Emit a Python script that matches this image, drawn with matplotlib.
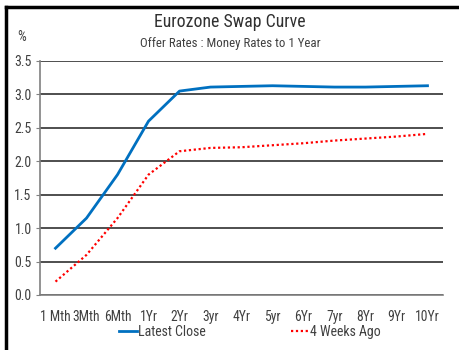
import numpy as np
import matplotlib.pyplot as plt
from matplotlib import font_manager

tenors = ['1 Mth', '3Mth', '6Mth', '1Yr', '2Yr', '3yr', '4Yr', '5yr', '6Yr', '7yr', '8Yr', '9Yr', '10Yr']
latest_close = [0.70, 1.15, 1.80, 2.60, 3.05, 3.11, 3.12, 3.13, 3.12, 3.11, 3.11, 3.12, 3.13]
four_weeks_ago = [0.20, 0.60, 1.15, 1.80, 2.15, 2.20, 2.21, 2.24, 2.27, 2.31, 2.34, 2.37, 2.41]
y_ticks = [0.0, 0.5, 1.0, 1.5, 2.0, 2.5, 3.0, 3.5]

names = {f.name for f in font_manager.fontManager.ttflist}
narrow = [n for n in ['Liberation Sans Narrow', 'Roboto Condensed', 'Open Sans Condensed'] if n in names]
font = narrow[0] if narrow else 'Liberation Sans'
plt.rcParams['font.family'] = [font, 'DejaVu Sans']
small = 9.5 if narrow else 8.3
text_col = '#404040'

fig = plt.figure(figsize=(4.6, 3.5), dpi=100)
ax = fig.add_axes([40 / 460, 1 - 295 / 350, 403 / 460, 234 / 350])

x = np.arange(len(tenors))
ax.plot(x, latest_close, color='#0070c0', lw=2, label='Latest Close')
ax.plot(x, four_weeks_ago, color='#ff0000', lw=1.6, ls=(0, (1, 1.2)), label='4 Weeks Ago')

ax.set_xlim(-0.5, len(tenors) - 0.5)
ax.set_ylim(0, 3.5)
ax.set_yticks(y_ticks)
ax.set_yticklabels([f'{v:.1f}' for v in y_ticks])
ax.set_xticks(x)
ax.set_xticklabels(tenors)
ax.yaxis.grid(True, color='#303030', lw=1.2)
ax.set_axisbelow(True)
for s in ['top', 'right']:
    ax.spines[s].set_visible(False)
for s in ['left', 'bottom']:
    ax.spines[s].set_color('#808080')
    ax.spines[s].set_linewidth(1.2)
ax.tick_params(axis='y', length=3, color='#808080', labelsize=small + 0.5, labelcolor=text_col, pad=3)
ax.tick_params(axis='x', length=0, labelsize=small + 0.3, labelcolor=text_col, pad=11)

fig.text(0.5, 1 - 22 / 350, 'Eurozone Swap Curve', ha='center', va='center', fontsize=12.8, color='#303030')
fig.text(0.5, 1 - 43 / 350, 'Offer Rates : Money Rates to 1 Year', ha='center', va='center', fontsize=small - 0.2, color=text_col)
fig.text(22 / 460, 1 - 37 / 350, '%', ha='center', va='center', fontsize=small + 0.5, color=text_col)

fig.legend(loc='center', bbox_to_anchor=(250 / 460, 1 - 332 / 350), ncol=2, frameon=False,
           fontsize=small + 0.5, handlelength=1.3, handletextpad=0.1, columnspacing=6.1, labelcolor=text_col)

# border on top and left
fig.add_artist(plt.Line2D([6 / 460, 1], [1 - 7 / 350, 1 - 7 / 350], color='black', lw=2.5, transform=fig.transFigure))
fig.add_artist(plt.Line2D([6 / 460, 6 / 460], [0, 1 - 7 / 350], color='black', lw=2.5, transform=fig.transFigure))

fig.savefig('out.png', dpi=100)
